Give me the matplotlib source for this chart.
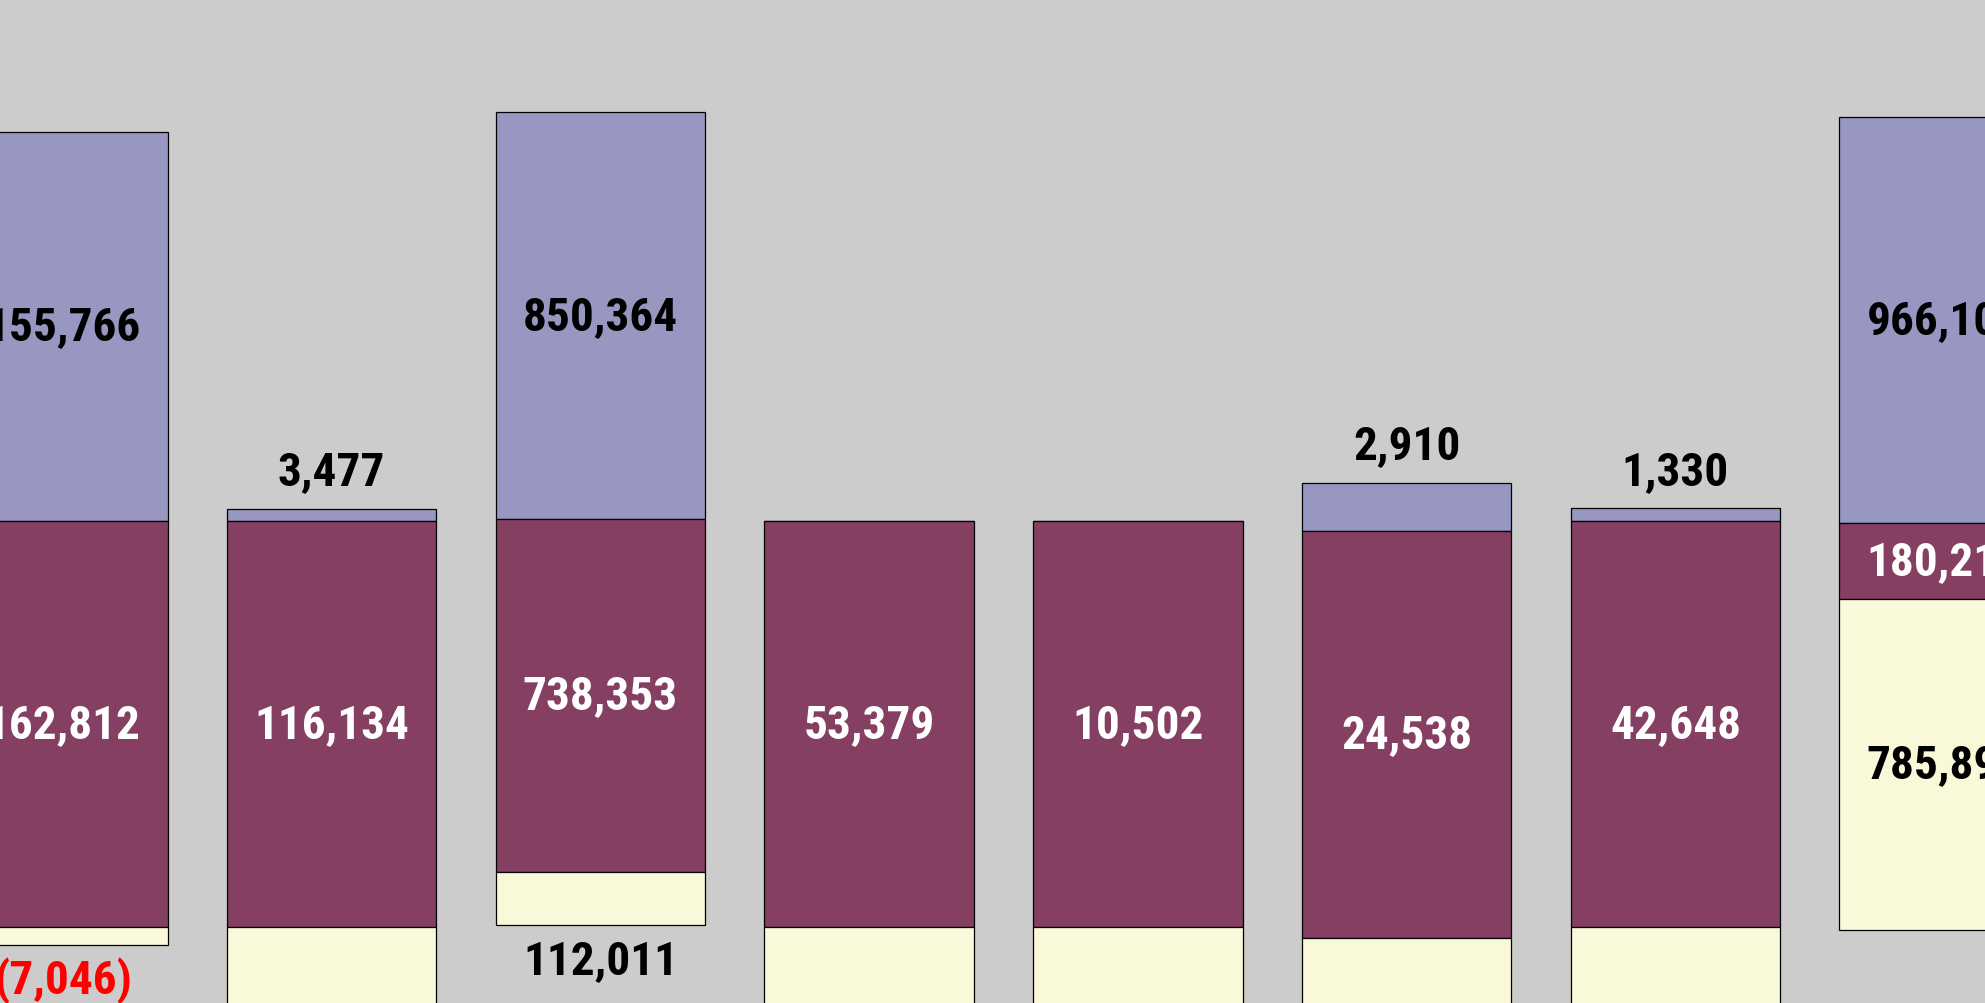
import os
import numpy as np
import matplotlib
matplotlib.use("Agg")
import matplotlib.pyplot as plt
from matplotlib import font_manager
from matplotlib.font_manager import FontProperties
from matplotlib.textpath import TextPath

# ---------------- data ----------------
categories = ["A", "B", "C", "D", "E", "F", "G", "H"]
blue_vals = [155766, 3477, 850364, 0, 0, 2910, 1330, 966105]
maroon_vals = [162812, 116134, 738353, 53379, 10502, 24538, 42648, 180213]
yellow_vals = [-7046, 112657, 112011, 53379, 10502, 21628, 41318, 785892]
# vertical shift of each floating bar (percentage points)
bar_base = [0.0, 0.0, 0.25, 0.0, 0.0, -1.25, 0.0, -0.3]

# ---------------- style ----------------
BG = "#cccccc"
C_BLUE = "#9797c2"
C_MAROON = "#843f62"
C_YELLOW = "#f9f8d8"

# pick a condensed font if one is installed
fp = None
prefs = ["RobotoCondensed-Bold", "LiberationSansNarrow-Bold", "OpenSans_Condensed-Bold",
         "OpenSansCondensed-Bold", "DejaVuSansCondensed-Bold", "RobotoCondensed",
         "NotoSans-CondensedBold", "NotoSansCondensed-Bold"]
files = [f.fname for f in font_manager.fontManager.ttflist]
for p in prefs:
    hit = [f for f in files if os.path.basename(f).startswith(p)]
    if hit:
        fp = FontProperties(fname=sorted(hit, key=len)[0])
        break
if fp is None:
    for f in files:
        bn = os.path.basename(f).lower()
        if ("condensed" in bn or "narrow" in bn) and "bold" in bn and "italic" not in bn and "oblique" not in bn:
            fp = FontProperties(fname=f)
            break
if fp is None:
    fp = FontProperties(family="DejaVu Sans", weight="bold")

# size the labels so digits are ~38 px tall and '850,364' ~135 px wide
ext_h = TextPath((0, 0), "850364", size=10, prop=fp).get_extents()
ext_w = TextPath((0, 0), "850,364", size=10, prop=fp).get_extents()
px_per_pt = 100 / 72
fs_h = 38 / (ext_h.height / 10 * px_per_pt)
fs_w = 135 / (ext_w.width / 10 * px_per_pt)
FS = min(fs_h, fs_w * 1.12)

fig = plt.figure(figsize=(19.85, 10.04), dpi=100, facecolor=BG)
ax = fig.add_axes([0, 0, 1, 1])
ax.set_facecolor(BG)
ax.set_axis_off()

x = np.arange(len(categories))
width = 0.78
b = np.array(blue_vals, dtype=float)
m = np.array(maroon_vals, dtype=float)
yv = np.array(yellow_vals, dtype=float)
tot = np.abs(b) + np.abs(m) + np.abs(yv)
bp = np.abs(b) / tot * 100
mp = np.abs(m) / tot * 100
yp = np.abs(yv) / tot * 100
base = np.array(bar_base)

kw = dict(width=width, edgecolor="black", linewidth=0.9)
ax.bar(x, bp, bottom=base, color=C_BLUE, **kw)
ax.bar(x, mp, bottom=base - mp, color=C_MAROON, **kw)
ax.bar(x, yp, bottom=base - mp - yp, color=C_YELLOW, **kw)

ax.set_xlim(-0.234, 7.152)
ax.set_ylim(-59.3, 64.2)


def fmt(v):
    s = f"{abs(int(v)):,}"
    return f"({s})" if v < 0 else s


tkw = dict(ha="center", va="center", fontproperties=fp, fontsize=FS)
TH = 8.0
for i in range(len(x)):
    # blue (top)
    if b[i] != 0:
        if bp[i] >= TH:
            ax.text(x[i], base[i] + bp[i] / 2, fmt(b[i]), color="black", **tkw)
        else:
            ax.annotate(fmt(b[i]), (x[i], base[i] + bp[i]), xytext=(0, 27),
                        textcoords="offset points", color="black", **tkw)
    # maroon (middle)
    ax.text(x[i], base[i] - mp[i] / 2, fmt(m[i]),
            color="red" if m[i] < 0 else "white", **tkw)
    # yellow (bottom)
    col = "red" if yv[i] < 0 else "black"
    if yp[i] >= TH:
        ax.text(x[i], base[i] - mp[i] - yp[i] / 2, fmt(yv[i]), color=col, **tkw)
    else:
        ax.annotate(fmt(yv[i]), (x[i], base[i] - mp[i] - yp[i]), xytext=(0, -25),
                    textcoords="offset points", color=col, **tkw)

fig.savefig("out.png", dpi=100, facecolor=BG)
